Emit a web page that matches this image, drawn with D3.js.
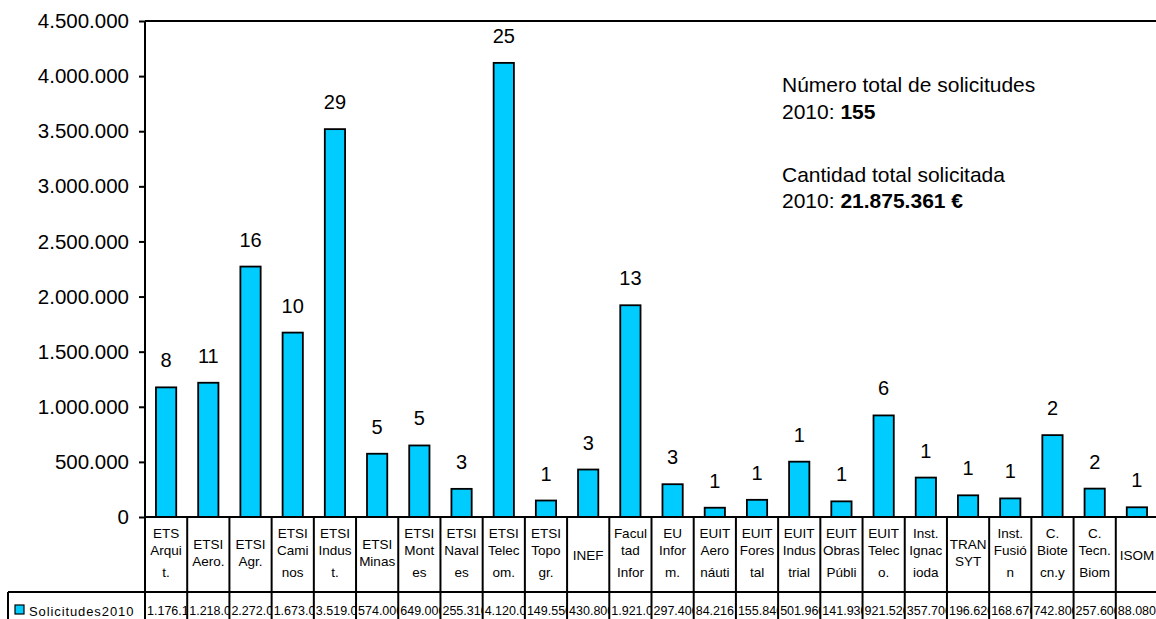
<!DOCTYPE html>
<html>
<head>
<meta charset="utf-8">
<script src="https://cdn.jsdelivr.net/npm/d3@7"></script>
<style>
  body { margin: 0; background: #fff; }
  svg { display: block; font-family: 'Liberation Sans', Arial, sans-serif; }
</style>
</head>
<body>
<svg id="chart" width="1156" height="619"></svg>
<script>
// category labels as they wrap inside the data table cells
var categories = [
  ['ETS','Arqui','t.'], ['ETSI','Aero.'], ['ETSI','Agr.'], ['ETSI','Cami','nos'],
  ['ETSI','Indus','t.'], ['ETSI','Minas'], ['ETSI','Mont','es'], ['ETSI','Naval','es'],
  ['ETSI','Telec','om.'], ['ETSI','Topo','gr.'], ['INEF'], ['Facul','tad','Infor'],
  ['EU','Infor','m.'], ['EUIT','Aero','náuti'], ['EUIT','Fores','tal'], ['EUIT','Indus','trial'],
  ['EUIT','Obras','Públi'], ['EUIT','Telec','o.'], ['Inst.','Ignac','ioda'], ['TRAN','SYT'],
  ['Inst.','Fusió','n'], ['C.','Biote','cn.y'], ['C.','Tecn.','Biom'], ['ISOM']
];
var solicitudes2010 = [
  1176100, 1218000, 2272000, 1673000, 3519000, 574000, 649000, 255310,
  4120000, 149550, 430800, 1921000, 297400, 84216, 155840, 501960,
  141930, 921520, 357700, 196620, 168670, 742800, 257600, 88080
];
var counts = [8, 11, 16, 10, 29, 5, 5, 3, 25, 1, 3, 13, 3, 1, 1, 1, 1, 6, 1, 1, 1, 2, 2, 1];
var yTicks = [0, 500000, 1000000, 1500000, 2000000, 2500000, 3000000, 3500000, 4000000, 4500000];
var seriesName = 'Solicitudes2010';
var noteLines = [
  ['Número total de solicitudes', ''],
  ['2010: ', '155'],
  ['', ''],
  ['Cantidad total solicitada', ''],
  ['2010: ', '21.875.361 €']
];

var loc = d3.formatLocale({decimal: ',', thousands: '.', grouping: [3], currency: ['', '€']});
var fmt = loc.format(',.0f');

var svg = d3.select('#chart'),
    plotLeft = 145, plotRight = 1158, plotTop = 21, plotBottom = 517,
    tableMid = 592, tableBottom = 640, tableLeft = 8,
    barColor = '#00ccff';

var idx = categories.map(function(d, i) { return i; });

var x = d3.scaleBand()
    .domain(idx)
    .range([plotLeft, plotRight])
    .paddingInner(0.52)
    .paddingOuter(0.26);

var step = x.step();

var y = d3.scaleLinear()
    .domain([0, 4500000])
    .range([plotBottom, plotTop]);

// y axis
var yAxis = svg.append('g')
    .attr('transform', 'translate(' + plotLeft + ',0)')
    .call(d3.axisLeft(y).tickValues(yTicks).tickFormat(fmt).tickSizeOuter(0).tickSize(6).tickPadding(10));
yAxis.select('.domain').remove();
yAxis.selectAll('line').attr('stroke', '#000').attr('stroke-width', 2);
yAxis.selectAll('text')
    .attr('font-size', '20.5px')
    .attr('fill', '#000')
    .attr('font-family', "'Liberation Sans', Arial, sans-serif");

// bars
svg.append('g')
  .selectAll('rect')
  .data(solicitudes2010)
  .enter().append('rect')
    .attr('x', function(d, i) { return x(i); })
    .attr('y', function(d) { return y(d); })
    .attr('width', x.bandwidth())
    .attr('height', function(d) { return y(0) - y(d); })
    .attr('fill', barColor)
    .attr('stroke', '#000')
    .attr('stroke-width', 1.8);

// count labels
svg.append('g')
  .selectAll('text')
  .data(counts)
  .enter().append('text')
    .attr('x', function(d, i) { return x(i) + x.bandwidth() / 2; })
    .attr('y', function(d, i) { return y(solicitudes2010[i]) - 20; })
    .attr('text-anchor', 'middle')
    .attr('font-size', '20px')
    .text(function(d) { return d; });

// plot frame: left axis, top border, baseline
var frame = svg.append('g').attr('stroke', '#000').attr('stroke-width', 2).attr('fill', 'none');
frame.append('line').attr('x1', plotLeft).attr('x2', plotLeft).attr('y1', plotTop).attr('y2', tableBottom);
frame.append('line').attr('x1', plotLeft).attr('x2', 1160).attr('y1', plotTop).attr('y2', plotTop);
frame.append('line').attr('x1', plotLeft).attr('x2', 1160).attr('y1', plotBottom).attr('y2', plotBottom);
frame.append('line').attr('x1', tableLeft).attr('x2', 1160).attr('y1', tableMid).attr('y2', tableMid);
frame.append('line').attr('x1', tableLeft).attr('x2', tableLeft).attr('y1', tableMid).attr('y2', tableBottom);

// data table column lines
frame.selectAll('.col')
  .data(idx)
  .enter().append('line')
    .attr('class', 'col')
    .attr('x1', function(d, i) { return plotLeft + (i + 1) * step; })
    .attr('x2', function(d, i) { return plotLeft + (i + 1) * step; })
    .attr('y1', plotBottom)
    .attr('y2', tableBottom);

// category labels
var catG = svg.append('g').attr('font-size', '13.5px').attr('text-anchor', 'middle');
categories.forEach(function(lines, i) {
  var cx = plotLeft + i * step + step / 2,
      lh = 21.5,
      y0 = 555 - (lines.length - 1) * lh / 2;
  var t = catG.append('text').attr('x', cx).attr('y', y0).attr('dy', '0.35em');
  lines.forEach(function(s, j) {
    t.append('tspan').attr('x', cx).attr('y', y0 + j * lh).text(s);
  });
});

// value row, clipped to each cell
var defs = svg.append('defs');
var valG = svg.append('g').attr('font-size', '12.5px');
solicitudes2010.forEach(function(v, i) {
  var cx0 = plotLeft + i * step;
  defs.append('clipPath').attr('id', 'clip' + i)
    .append('rect').attr('x', cx0 + 1).attr('y', tableMid).attr('width', step - 1).attr('height', 40);
  valG.append('text')
    .attr('clip-path', 'url(#clip' + i + ')')
    .attr('x', cx0 + 2)
    .attr('y', 611)
    .attr('dy', '0.35em')
    .text(fmt(v));
});

// legend key in the value row
svg.append('rect')
    .attr('x', 15).attr('y', 605).attr('width', 9).attr('height', 9)
    .attr('fill', barColor).attr('stroke', '#000').attr('stroke-width', 1.2);
svg.append('text')
    .attr('x', 29).attr('y', 611).attr('dy', '0.35em')
    .attr('font-size', '13px')
    .attr('letter-spacing', '0.9px')
    .text(seriesName);

// annotation
var note = svg.append('text').attr('font-size', '21px');
var baselines = [92, 118.5, 145, 181.5, 208];
noteLines.forEach(function(l, i) {
  if (!l[0] && !l[1]) return;
  note.append('tspan').attr('x', 782).attr('y', baselines[i]).text(l[0]);
  if (l[1]) note.append('tspan').attr('font-weight', 'bold').text(l[1]);
});
</script>
</body>
</html>
